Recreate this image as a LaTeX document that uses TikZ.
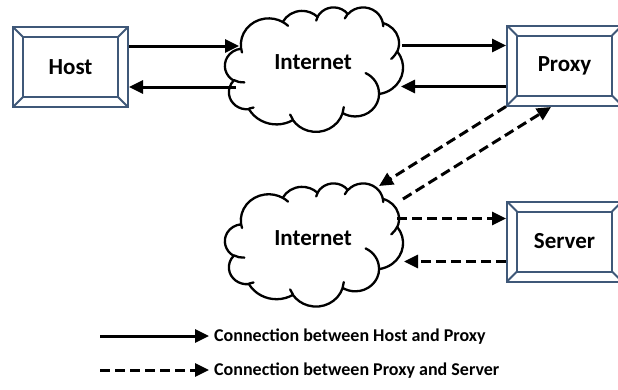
\documentclass[tikz,border=0pt]{standalone}
\usepackage{fontspec}
\setmainfont{Carlito}
\usetikzlibrary{arrows.meta}
\definecolor{boxline}{HTML}{3F5878}

% One elliptic arc of the cloud outline: x radius, y radius, start angle and
% sweep (degrees, measured as seen from the centre); converted to the
% parametric angles that \pgfpatharc expects.
\newcommand\cldarc[4]{%
  \pgfmathsetmacro\cldA{atan2(#1*sin(#3), #2*cos(#3))}%
  \pgfmathsetmacro\cldB{atan2(#1*sin(#3+#4), #2*cos(#3+#4))}%
  \pgfmathsetmacro\cldD{\cldB-\cldA}%
  \pgfmathsetmacro\cldD{#4>0 ? (\cldD<0 ? \cldD+360 : \cldD) : (\cldD>0 ? \cldD-360 : \cldD)}%
  \pgfmathsetmacro\cldB{\cldA+\cldD}%
  \pgfpatharc{\cldA}{\cldB}{#1pt and #2pt}}

% Cloud outline in a 43.2 x 43.2 box, y pointing down
\newcommand\cloudoutline{%
  \pgfpathmoveto{\pgfpoint{3.900pt}{14.370pt}}%
  \cldarc{6.753}{9.190}{-190.4875}{123.7805}%
  \cldarc{5.333}{7.267}{-144.1024}{89.9452}%
  \cldarc{4.365}{5.945}{-145.8079}{99.7230}%
  \cldarc{4.857}{6.595}{-130.9861}{117.2417}%
  \cldarc{5.333}{7.273}{-78.7089}{109.0269}%
  \cldarc{6.775}{9.220}{-46.2673}{130.2690}%
  \cldarc{5.785}{7.867}{0.6250}{114.0333}%
  \cldarc{6.752}{9.215}{22.4516}{115.1726}%
  \cldarc{7.720}{10.543}{66.2426}{75.7110}%
  \cldarc{4.360}{5.918}{-274.9421}{146.7356}%
  \cldarc{4.345}{5.945}{-246.8285}{152.5189}%
  \pgfpathclose}

% The small inner curls of the cloud
\newcommand\cloudcurls{%
  \pgfpathmoveto{\pgfpoint{4.693pt}{26.177pt}}\cldarc{4.345}{5.945}{86.7420}{26.4295}%
  \pgfpathmoveto{\pgfpoint{6.928pt}{34.899pt}}\cldarc{4.360}{5.918}{73.6105}{11.4475}%
  \pgfpathmoveto{\pgfpoint{16.478pt}{39.090pt}}\cldarc{6.752}{9.215}{137.6242}{14.0811}%
  \pgfpathmoveto{\pgfpoint{28.827pt}{34.751pt}}\cldarc{6.752}{9.215}{6.4533}{15.9984}%
  \pgfpathmoveto{\pgfpoint{34.129pt}{22.954pt}}\cldarc{5.785}{7.867}{-70.2924}{70.9174}%
  \pgfpathmoveto{\pgfpoint{41.798pt}{15.354pt}}\cldarc{5.333}{7.273}{30.3180}{27.7515}%
  \pgfpathmoveto{\pgfpoint{38.324pt}{5.426pt}}\cldarc{4.857}{6.595}{-13.7443}{14.8589}%
  \pgfpathmoveto{\pgfpoint{29.078pt}{3.952pt}}\cldarc{4.857}{6.595}{-149.1815}{18.1954}%
  \pgfpathmoveto{\pgfpoint{22.141pt}{4.720pt}}\cldarc{4.365}{5.945}{-163.4943}{17.6864}%
  \pgfpathmoveto{\pgfpoint{14.000pt}{5.192pt}}\cldarc{6.753}{9.190}{-66.7070}{12.3194}%
  \pgfpathmoveto{\pgfpoint{4.127pt}{15.789pt}}\cldarc{6.753}{9.190}{157.6544}{11.8582}}

\newcommand\drawcloud{%
  \pgfsetlinewidth{2.3pt}\pgfsetroundjoin\pgfsetroundcap
  \pgfsetstrokecolor{black}\pgfsetfillcolor{white}%
  \cloudoutline\pgfusepath{fill,stroke}%
  \cloudcurls\pgfusepath{stroke}}

\newcommand\bev{10}

\begin{document}
\begin{tikzpicture}[x=1pt,y=1pt,
  bevelline/.style={draw=boxline, line width=2pt},
  bevelbox/.style={draw=boxline, line width=2pt, fill=white,
    minimum width=115pt, minimum height=80pt, inner sep=0pt,
    font=\fontsize{23}{27}\selectfont\bfseries,
    path picture={
      \draw[bevelline] ([xshift=\bev pt,yshift=\bev pt]path picture bounding box.south west)
        rectangle ([xshift=-\bev pt,yshift=-\bev pt]path picture bounding box.north east);
      \draw[bevelline] (path picture bounding box.south west) -- ++(\bev,\bev);
      \draw[bevelline] (path picture bounding box.north east) -- ++(-\bev,-\bev);
      \draw[bevelline] (path picture bounding box.north west) -- ++(\bev,-\bev);
      \draw[bevelline] (path picture bounding box.south east) -- ++(-\bev,\bev);
    }},
  cloudtext/.style={font=\fontsize{23}{27}\selectfont\bfseries, inner sep=0pt},
  legendtext/.style={font=\fontsize{18}{21}\selectfont\bfseries, anchor=west, inner sep=0pt},
  link/.style={line width=3pt, -{Triangle[length=14pt,width=13pt]}},
  dlink/.style={link, dash pattern=on 10pt off 5pt}]
\useasboundingbox (0,0) rectangle (618,-389);
\fill[white] (0,0) rectangle (618,-389);

% Clouds
\begin{scope}[shift={(225,-7)}, xscale=4.12, yscale=-2.88]
  \drawcloud
\end{scope}
\begin{scope}[shift={(225,-183)}, xscale=4.12, yscale=-2.85]
  \drawcloud
\end{scope}
\node[cloudtext] (net1) at (313,-62) {Internet};
\node[cloudtext] (net2) at (313,-238) {Internet};

% Boxes
\node[bevelbox] (host) at (70.5,-67) {Host};
\node[bevelbox] (proxy) at (564.5,-65.5) {Proxy};
\node[bevelbox] (server) at (564.5,-241.5) {Server};

% Connector ends on the clouds
\coordinate (n1w-in) at (239,-46);
\coordinate (n1w-out) at (236,-87);
\coordinate (n1e-out) at (402,-45.5);
\coordinate (n1e-in) at (401,-86.5);
\coordinate (n2ne-in) at (379,-186);
\coordinate (n2ne-out) at (403,-199);
\coordinate (n2e-out) at (397,-218.5);
\coordinate (n2e-in) at (404,-261.5);
\coordinate (proxy-in) at (551,-107);

% Host <-> Internet <-> Proxy
\draw[link] ([yshift=21]host.east) -- (n1w-in);
\draw[link] (n1w-out) -- ([yshift=-20]host.east);
\draw[link] (n1e-out) -- ([yshift=20]proxy.west);
\draw[link] ([yshift=-21]proxy.west) -- (n1e-in);

% Proxy <-> Internet <-> Server
\draw[dlink] (proxy.south west) -- (n2ne-in);
\draw[dlink] (n2ne-out) -- (proxy-in);
\draw[dlink] (n2e-out) -- ([yshift=23]server.west);
\draw[dlink] ([yshift=-20]server.west) -- (n2e-in);

% Legend
\coordinate (lg1a) at (100,-336);
\coordinate (lg1b) at (209,-336);
\coordinate (lg2a) at (100,-370);
\coordinate (lg2b) at (209,-370);
\draw[link] (lg1a) -- (lg1b);
\draw[dlink] (lg2a) -- (lg2b);
\node[legendtext] (lg1) at (214,-337) {Connection between Host and Proxy};
\node[legendtext] (lg2) at (214,-371) {Connection between Proxy and Server};
\end{tikzpicture}
\end{document}
